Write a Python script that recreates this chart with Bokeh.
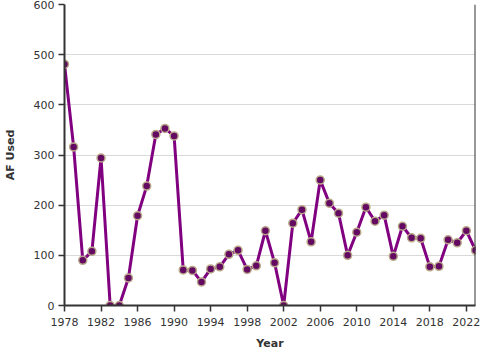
from bokeh.plotting import figure
from bokeh.models import Range1d, FixedTicker, Span, ColumnDataSource
from bokeh.embed import file_html
from bokeh.resources import INLINE

years = list(range(1978, 2024))
af_used = [481, 316, 90, 108, 294, 0, 0, 55, 179, 238,
           341, 353, 338, 71, 70, 47, 73, 77, 102, 110,
           72, 79, 149, 85, 0, 164, 191, 127, 250, 204,
           184, 100, 146, 196, 168, 180, 98, 158, 135, 134,
           77, 78, 131, 125, 149, 110]
x_ticks = list(range(1978, 2023, 4))
y_ticks = [0, 100, 200, 300, 400, 500, 600]

src = ColumnDataSource(dict(year=years, af=af_used))

p = figure(width=480, height=352, output_backend="svg", toolbar_location=None,
           x_range=Range1d(1978, 2023), y_range=Range1d(0, 600),
           min_border_left=63, min_border_right=5, min_border_top=4, min_border_bottom=0)
p.outline_line_color = None
p.background_fill_color = "white"

p.line("year", "af", source=src, line_color="#800080", line_width=3)
p.scatter("year", "af", source=src, size=8, fill_color="#650a62",
          line_color="#b8a88a", line_width=1.5)

font = "DejaVu Sans"
for ax in (p.xaxis[0], p.yaxis[0]):
    ax.axis_line_color = "#333333"
    ax.axis_line_width = 2
    ax.major_tick_line_color = "#333333"
    ax.major_tick_line_width = 1.5
    ax.major_tick_out = 6
    ax.major_tick_in = 0
    ax.minor_tick_line_color = None
    ax.major_label_text_font = font
    ax.major_label_text_font_size = "11px"
    ax.major_label_text_color = "#333333"
    ax.axis_label_text_font = font
    ax.axis_label_text_font_size = "11px"
    ax.axis_label_text_font_style = "bold"
    ax.axis_label_text_color = "#333333"

p.xaxis.ticker = FixedTicker(ticks=x_ticks)
p.yaxis.ticker = FixedTicker(ticks=y_ticks)
p.xaxis.axis_label = "Year"
p.yaxis.axis_label = "AF Used"
p.xaxis.major_label_standoff = 6
p.xaxis.axis_label_standoff = 8
p.yaxis.major_label_standoff = 4
p.yaxis.axis_label_standoff = 14

p.xgrid.grid_line_color = None
p.ygrid.grid_line_color = "#d9d9d9"
p.ygrid.grid_line_width = 1

p.add_layout(Span(location=2023, dimension="height", line_color="#333333", line_width=2))

open("out.html", "w").write(file_html(p, INLINE))
